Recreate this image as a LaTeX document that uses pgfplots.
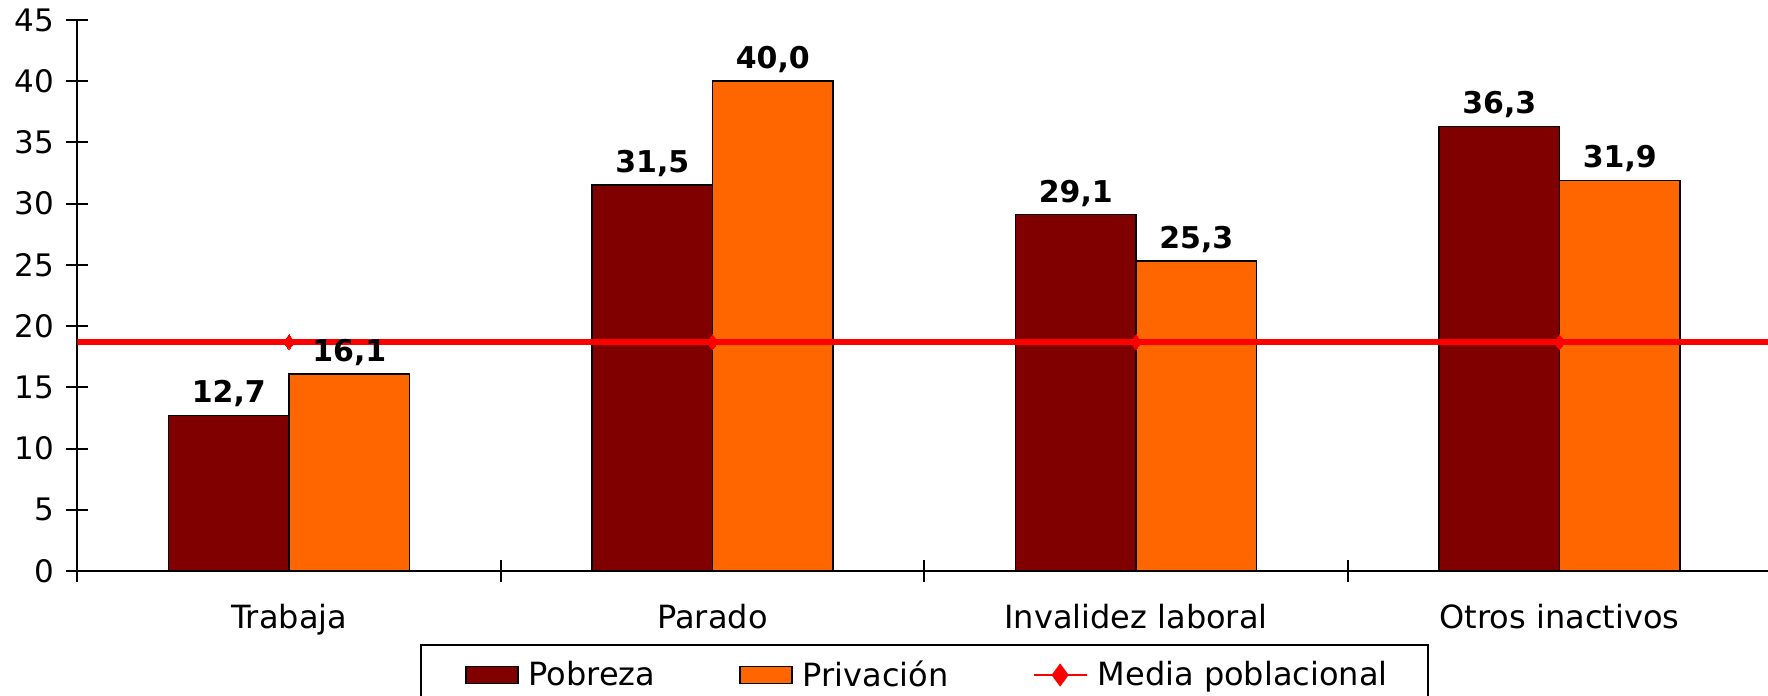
\documentclass[border=0pt]{standalone}
\usepackage{fontspec}
\setmainfont{DejaVu Sans}
\usepackage{pgfplots}
\usepackage{pgfplotstable}
\pgfplotsset{compat=1.18}
\definecolor{pobreza}{HTML}{800000}
\definecolor{privacion}{HTML}{FF6600}
\definecolor{media}{HTML}{FF0000}
\pgfplotstableread{
x pob priv
0 12.7 16.1
1 31.5 40.0
2 29.1 25.3
3 36.3 31.9
}\datatab
\pgfplotstableread{
x m
-0.5 18.7
0 18.7
1 18.7
2 18.7
3 18.7
3.5 18.7
}\mediatab
\begin{document}
\begin{tikzpicture}
\useasboundingbox (0,0) rectangle (884pt,348pt);
\clip (0,0) rectangle (884pt,348pt);
\begin{axis}[
  at={(38.65pt,62.5pt)}, anchor=south west,
  scale only axis, width=847pt, height=275.5pt,
  xmin=-0.5, xmax=3.5, ymin=0, ymax=45,
  axis x line=bottom, axis y line=left,
  axis line style={-, line width=1pt, black},
  tick align=outside, major tick length=11pt,
  tick style={line width=1pt, black},
  every major x tick/.append style={yshift=5.5pt},
  every major y tick/.append style={xshift=5.5pt},
  ytick={0,5,...,45},
  xtick={-0.5,0.5,1.5,2.5,3.5}, xticklabels={},
  extra x ticks={0,1,2,3},
  extra x tick labels={Trabaja,Parado,Invalidez laboral,Otros inactivos},
  extra x tick style={major tick length=0pt,
    tick label style={font=\fontsize{16}{19}\selectfont, text height=12pt, text depth=3pt, anchor=north, yshift=-13pt}},
  yticklabel style={font=\fontsize{15.5}{18}\selectfont, anchor=east, xshift=3pt},
  /pgf/number format/assume math mode=true,
  ybar, bar width=0.2845, 
  legend columns=3,
  legend style={at={(0.5,-0.132)}, anchor=north, draw=black, line width=1pt,
    font=\fontsize{16}{19}\selectfont, inner xsep=18pt, inner ysep=6pt,
    /tikz/every odd column/.append style={column sep=3pt},
    /tikz/every even column/.append style={column sep=40pt}},
  legend cell align=left,
]
\addplot[fill=pobreza, draw=black, line width=0.8pt, bar shift=-0.14225,
  legend image code/.code={\path (-4pt,0pt); \draw[fill=pobreza,draw=black,line width=0.8pt] (0pt,-4.25pt) rectangle (26pt,4.25pt);}]
  table[x=x,y=pob]{\datatab};
\addlegendentry{Pobreza}
\addplot[fill=privacion, draw=black, line width=0.8pt, bar shift=0.14225,
  legend image code/.code={\draw[fill=privacion,draw=black,line width=0.8pt] (0pt,-4.25pt) rectangle (26pt,4.25pt);}]
  table[x=x,y=priv]{\datatab};
\addlegendentry{Privación}
\addplot[sharp plot, media, line width=3pt, mark=diamond*, mark size=3.7pt,
  mark options={fill=media, draw=media, line width=0pt}, mark indices={2,3,4,5},
  legend image code/.code={\draw[media,line width=1.2pt] (0pt,0pt) -- (26.5pt,0pt);
    \fill[media] (13.25pt,3.3pt) -- (15.7pt,0pt) -- (13.25pt,-3.3pt) -- (10.8pt,0pt) -- cycle;}]
  table[x=x,y=m]{\mediatab};
\addlegendentry{Media poblacional}
\addplot[draw=none, fill=none, bar shift=-0.14225, forget plot,
  nodes near coords={\pgfmathprintnumber[fixed,fixed zerofill,precision=1,use comma]{\pgfplotspointmeta}},
  every node near coord/.append style={font=\bfseries\fontsize{15}{18}\selectfont, text=black, anchor=south, inner sep=3pt, yshift=1pt}]
  table[x=x,y=pob]{\datatab};
\addplot[draw=none, fill=none, bar shift=0.14225, forget plot,
  nodes near coords={\pgfmathprintnumber[fixed,fixed zerofill,precision=1,use comma]{\pgfplotspointmeta}},
  every node near coord/.append style={font=\bfseries\fontsize{15}{18}\selectfont, text=black, anchor=south, inner sep=3pt, yshift=1pt}]
  table[x=x,y=priv]{\datatab};
\end{axis}
\end{tikzpicture}
\end{document}
